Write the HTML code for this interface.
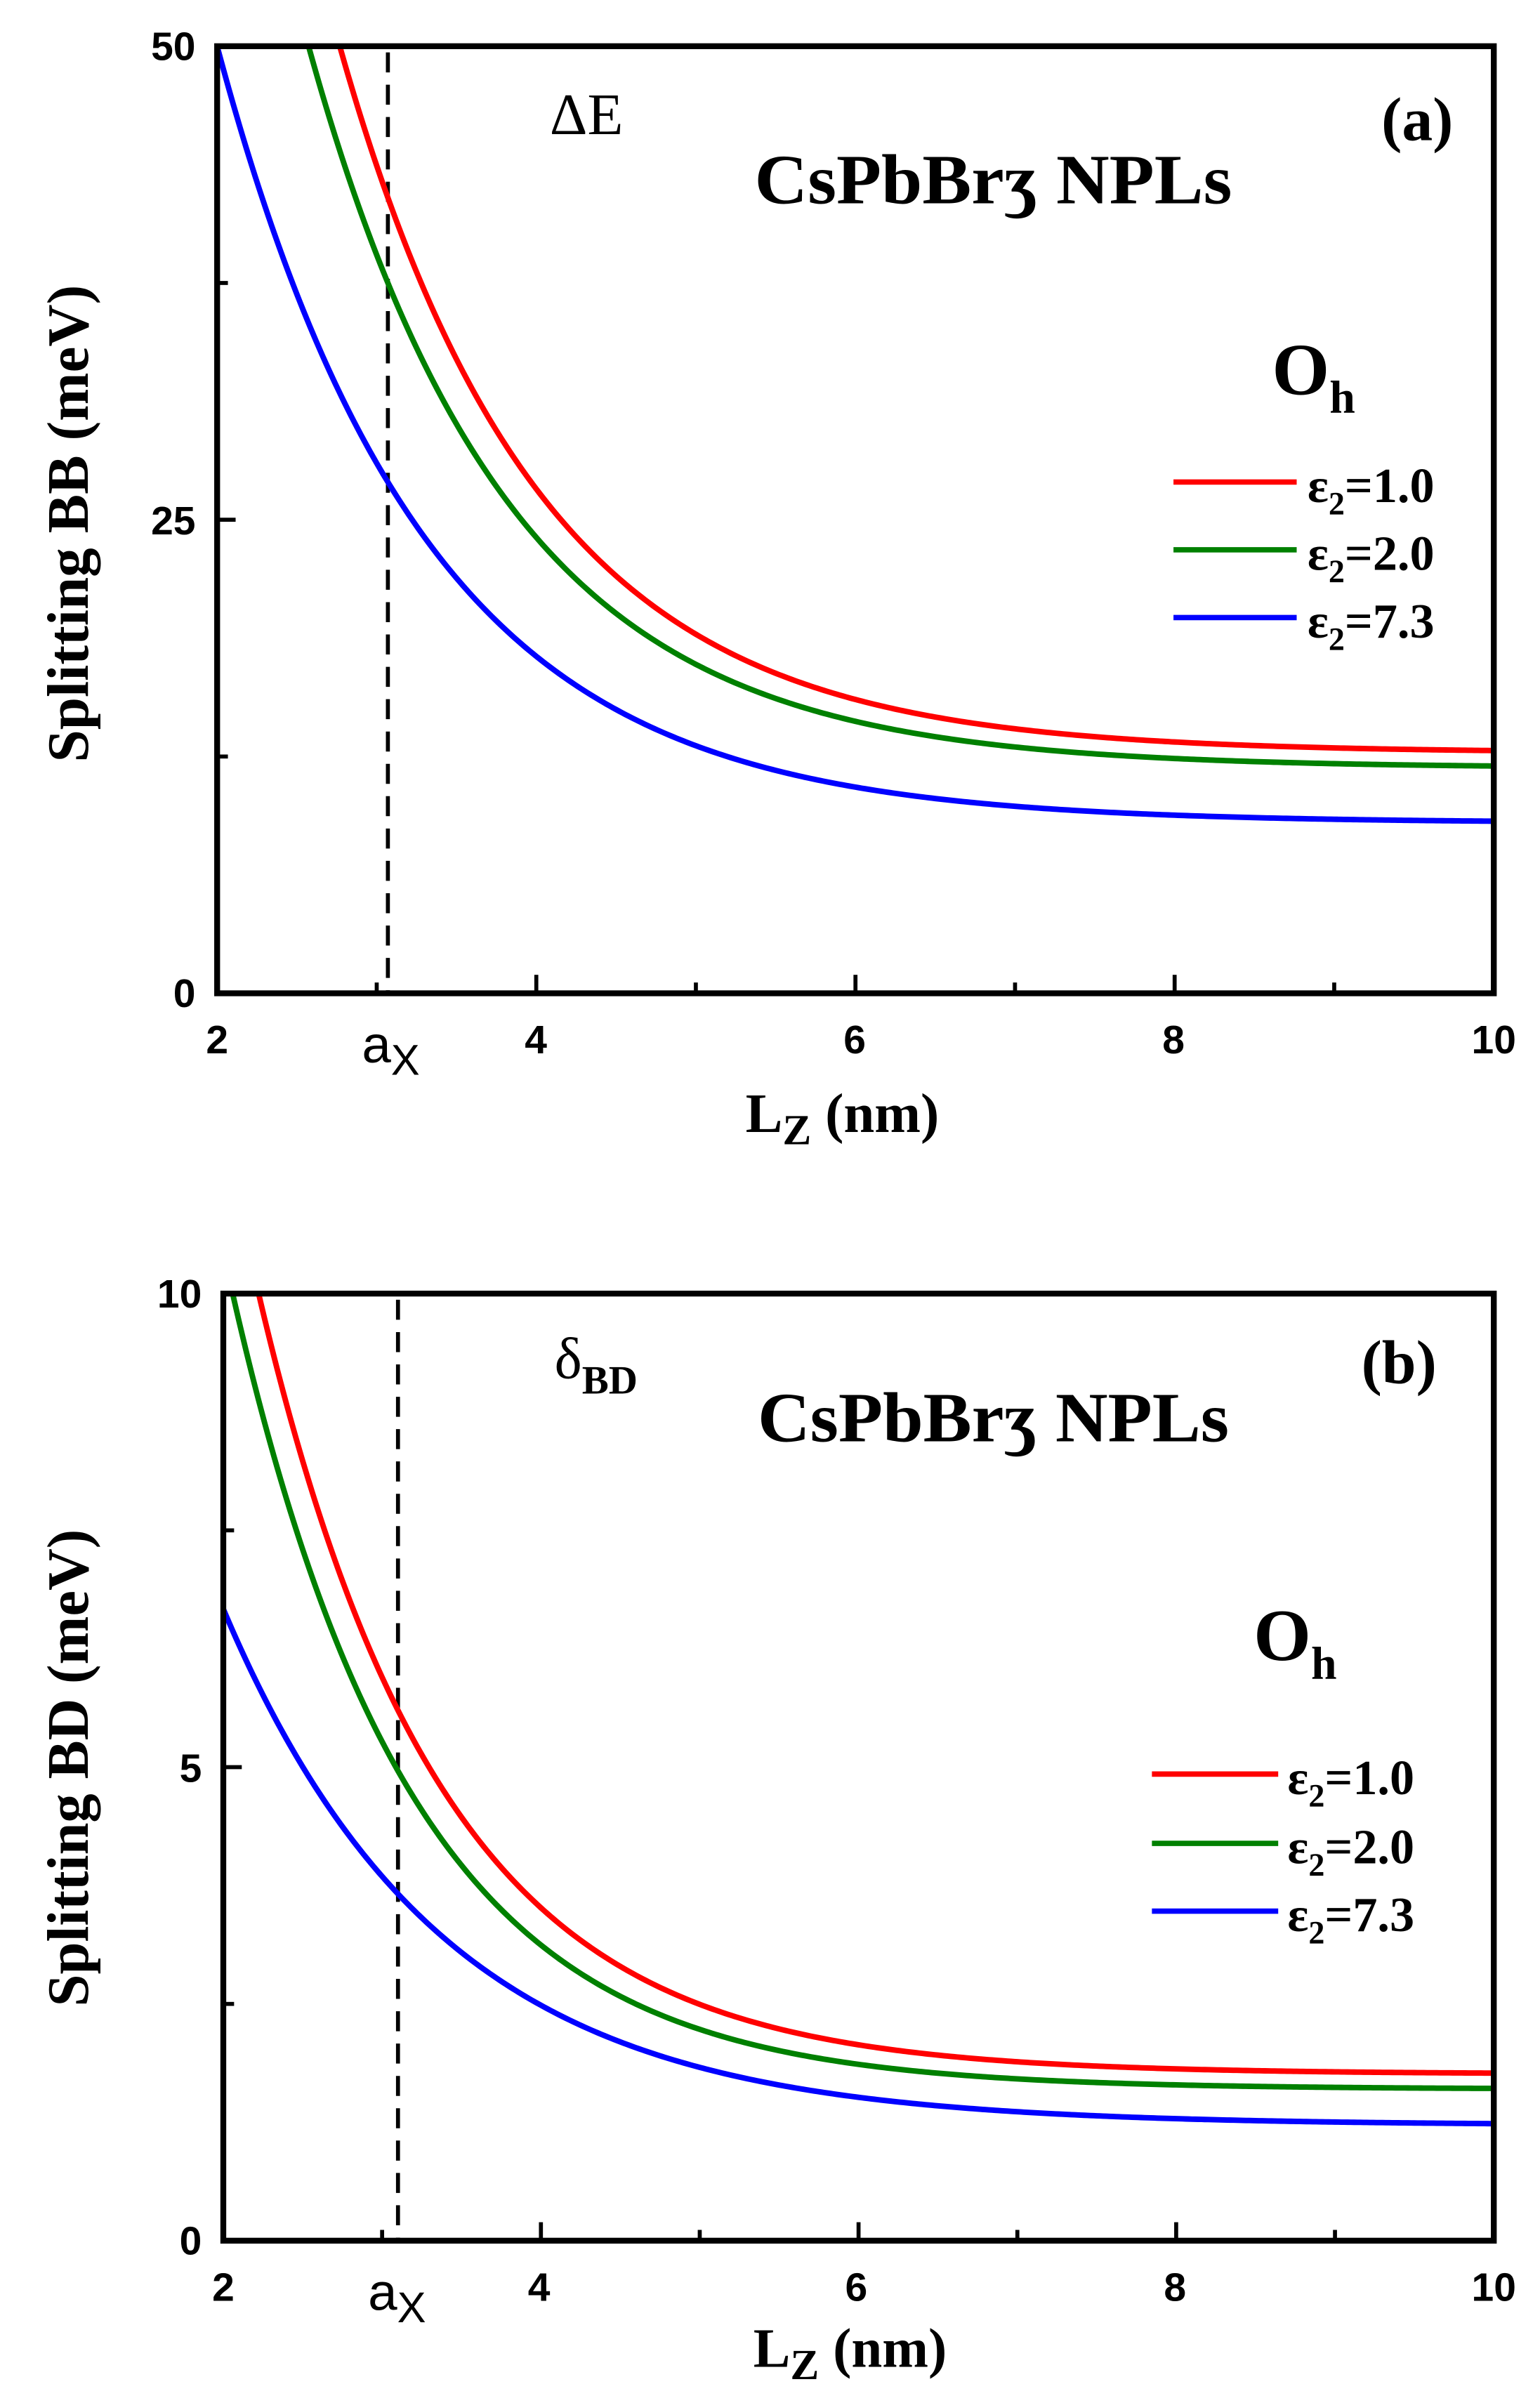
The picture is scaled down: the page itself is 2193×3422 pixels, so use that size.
<!DOCTYPE html>
<html><head><meta charset="utf-8"><style>
html,body{margin:0;padding:0;background:#fff;}
svg{display:block;}
.t{font-family:"Liberation Sans",sans-serif;font-weight:bold;font-size:26px;}
.s{font-family:"Liberation Serif",serif;font-weight:bold;}
</style></head><body>
<svg id="c" width="2193" height="3422" viewBox="0 0 1000 1560.4" preserveAspectRatio="none" xmlns="http://www.w3.org/2000/svg">
<rect width="1000" height="1560.4" fill="#fff"/>
<g id="A"></g>
<text class="t" x="127" y="39" text-anchor="end">50</text>
<text class="t" x="127" y="347" text-anchor="end">25</text>
<text class="t" x="127" y="654" text-anchor="end">0</text>
<text class="t" x="141" y="684" text-anchor="middle">2</text>
<text class="t" x="348" y="684" text-anchor="middle">4</text>
<text class="t" x="555" y="684" text-anchor="middle">6</text>
<text class="t" x="762" y="684" text-anchor="middle">8</text>
<text class="t" x="970" y="684" text-anchor="middle">10</text>
<text x="235" y="690" font-family="Liberation Sans,sans-serif" font-size="34">a<tspan font-size="28" dy="8">X</tspan></text>
<text class="s" x="547" y="735" font-size="36" text-anchor="middle">L<tspan font-size="28" dy="8">Z</tspan><tspan dy="-8"> (nm)</tspan></text>
<text class="s" transform="translate(57,340) rotate(-90)" font-size="38" text-anchor="middle" textLength="310" lengthAdjust="spacingAndGlyphs">Splitting BB (meV)</text>
<text x="357" y="87" font-family="Liberation Serif,serif" font-size="38">ΔE</text>
<text class="s" x="490" y="132" font-size="46" textLength="310" lengthAdjust="spacingAndGlyphs">CsPbBrʒ NPLs</text>
<text class="s" x="897" y="91" font-size="40">(a)</text>
<text class="s" x="826" y="256" font-size="48">O<tspan font-size="30" dy="12">h</tspan></text>
<line x1="762" y1="313" x2="842" y2="313" stroke="#f00" stroke-width="3.5"/>
<line x1="762" y1="357" x2="842" y2="357" stroke="#008000" stroke-width="3.5"/>
<line x1="762" y1="401" x2="842" y2="401" stroke="#00f" stroke-width="3.5"/>
<text class="s" x="849" y="326" font-size="32">ε<tspan font-size="21" dy="8">2</tspan><tspan dy="-8">=1.0</tspan></text>
<text class="s" x="849" y="370" font-size="32">ε<tspan font-size="21" dy="8">2</tspan><tspan dy="-8">=2.0</tspan></text>
<text class="s" x="849" y="414" font-size="32">ε<tspan font-size="21" dy="8">2</tspan><tspan dy="-8">=7.3</tspan></text>

<g id="B"></g>
<text class="t" x="131" y="849" text-anchor="end">10</text>
<text class="t" x="131" y="1157" text-anchor="end">5</text>
<text class="t" x="131" y="1464" text-anchor="end">0</text>
<text class="t" x="145" y="1494" text-anchor="middle">2</text>
<text class="t" x="350" y="1494" text-anchor="middle">4</text>
<text class="t" x="556" y="1494" text-anchor="middle">6</text>
<text class="t" x="763" y="1494" text-anchor="middle">8</text>
<text class="t" x="970" y="1494" text-anchor="middle">10</text>
<text x="239" y="1500" font-family="Liberation Sans,sans-serif" font-size="34">a<tspan font-size="28" dy="8">X</tspan></text>
<text class="s" x="552" y="1537" font-size="36" text-anchor="middle">L<tspan font-size="28" dy="8">Z</tspan><tspan dy="-8"> (nm)</tspan></text>
<text class="s" transform="translate(57,1148) rotate(-90)" font-size="38" text-anchor="middle" textLength="310" lengthAdjust="spacingAndGlyphs">Splitting BD (meV)</text>
<text x="360" y="895" font-family="Liberation Serif,serif" font-size="38">δ<tspan font-size="26" dy="10" font-weight="bold">BD</tspan></text>
<text class="s" x="492" y="936" font-size="46" textLength="306" lengthAdjust="spacingAndGlyphs">CsPbBrʒ NPLs</text>
<text class="s" x="884" y="898" font-size="40">(b)</text>
<text class="s" x="814" y="1078" font-size="48">O<tspan font-size="30" dy="12">h</tspan></text>
<line x1="748" y1="1152" x2="830" y2="1152" stroke="#f00" stroke-width="3.5"/>
<line x1="748" y1="1197" x2="830" y2="1197" stroke="#008000" stroke-width="3.5"/>
<line x1="748" y1="1241" x2="830" y2="1241" stroke="#00f" stroke-width="3.5"/>
<text class="s" x="836" y="1165" font-size="32">ε<tspan font-size="21" dy="8">2</tspan><tspan dy="-8">=1.0</tspan></text>
<text class="s" x="836" y="1210" font-size="32">ε<tspan font-size="21" dy="8">2</tspan><tspan dy="-8">=2.0</tspan></text>
<text class="s" x="836" y="1254" font-size="32">ε<tspan font-size="21" dy="8">2</tspan><tspan dy="-8">=7.3</tspan></text>
</svg>
<script>
(function(){
var NS="http://www.w3.org/2000/svg";
function el(g,n,a){var e=document.createElementNS(NS,n);for(var k in a)e.setAttribute(k,a[k]);g.appendChild(e);return e;}
function panel(id,L,R,T,B,ymax,dashL,curves,minorY){
  var g=document.getElementById(id);
  function X(v){return L+(v-2)/8*(R-L);}
  function Y(v){return B-v/ymax*(B-T);}
  var cp=id+"clip";
  var d=el(g,"defs",{});var c=el(d,"clipPath",{id:cp});el(c,"rect",{x:L,y:T,width:R-L,height:B-T});
  el(g,"line",{x1:X(dashL),y1:T+4,x2:X(dashL),y2:B,stroke:"#000","stroke-width":2.6,"stroke-dasharray":"13,8"});
  curves.forEach(function(cv){
    var p="";
    for(var x=2;x<=10.001;x+=0.02){var v=cv.f(x);p+=(p?"L":"M")+X(x).toFixed(2)+","+Y(v).toFixed(2);}
    el(g,"path",{d:p,fill:"none",stroke:cv.c,"stroke-width":3.6,"clip-path":"url(#"+cp+")"});
  });
  [4,6,8].forEach(function(v){el(g,"line",{x1:X(v),y1:B,x2:X(v),y2:B-12,stroke:"#000","stroke-width":2.6});});
  [3,5,7,9].forEach(function(v){el(g,"line",{x1:X(v),y1:B,x2:X(v),y2:B-7,stroke:"#000","stroke-width":2.6});});
  el(g,"line",{x1:L,y1:Y(ymax/2),x2:L+12,y2:Y(ymax/2),stroke:"#000","stroke-width":2.6});
  minorY.forEach(function(v){el(g,"line",{x1:L,y1:Y(v),x2:L+7,y2:Y(v),stroke:"#000","stroke-width":2.6});});
  el(g,"rect",{x:L,y:T,width:R-L,height:B-T,fill:"none",stroke:"#000","stroke-width":3.8});
}
panel("A",141,970,30,645,50,3.07,[
 {c:"#00f",f:function(x){return 9+41*Math.exp(-0.77*(x-2));}},
 {c:"#008000",f:function(x){return 11.9+25.6*Math.exp(-0.8*(x-3.07));}},
 {c:"#f00",f:function(x){return 12.7+29.3*Math.exp(-0.8*(x-3.07));}}
],[12.5,37.5]);
panel("B",145,970,840,1455,10,3.1,[
 {c:"#00f",f:function(x){return 1.22+5.45*Math.exp(-0.73*(x-2));}},
 {c:"#008000",f:function(x){return 1.6+3.36*Math.exp(-0.88*(x-3.1));}},
 {c:"#f00",f:function(x){return 1.76+3.84*Math.exp(-0.87*(x-3.1));}}
],[2.5,7.5]);
})();
</script>
</body></html>
